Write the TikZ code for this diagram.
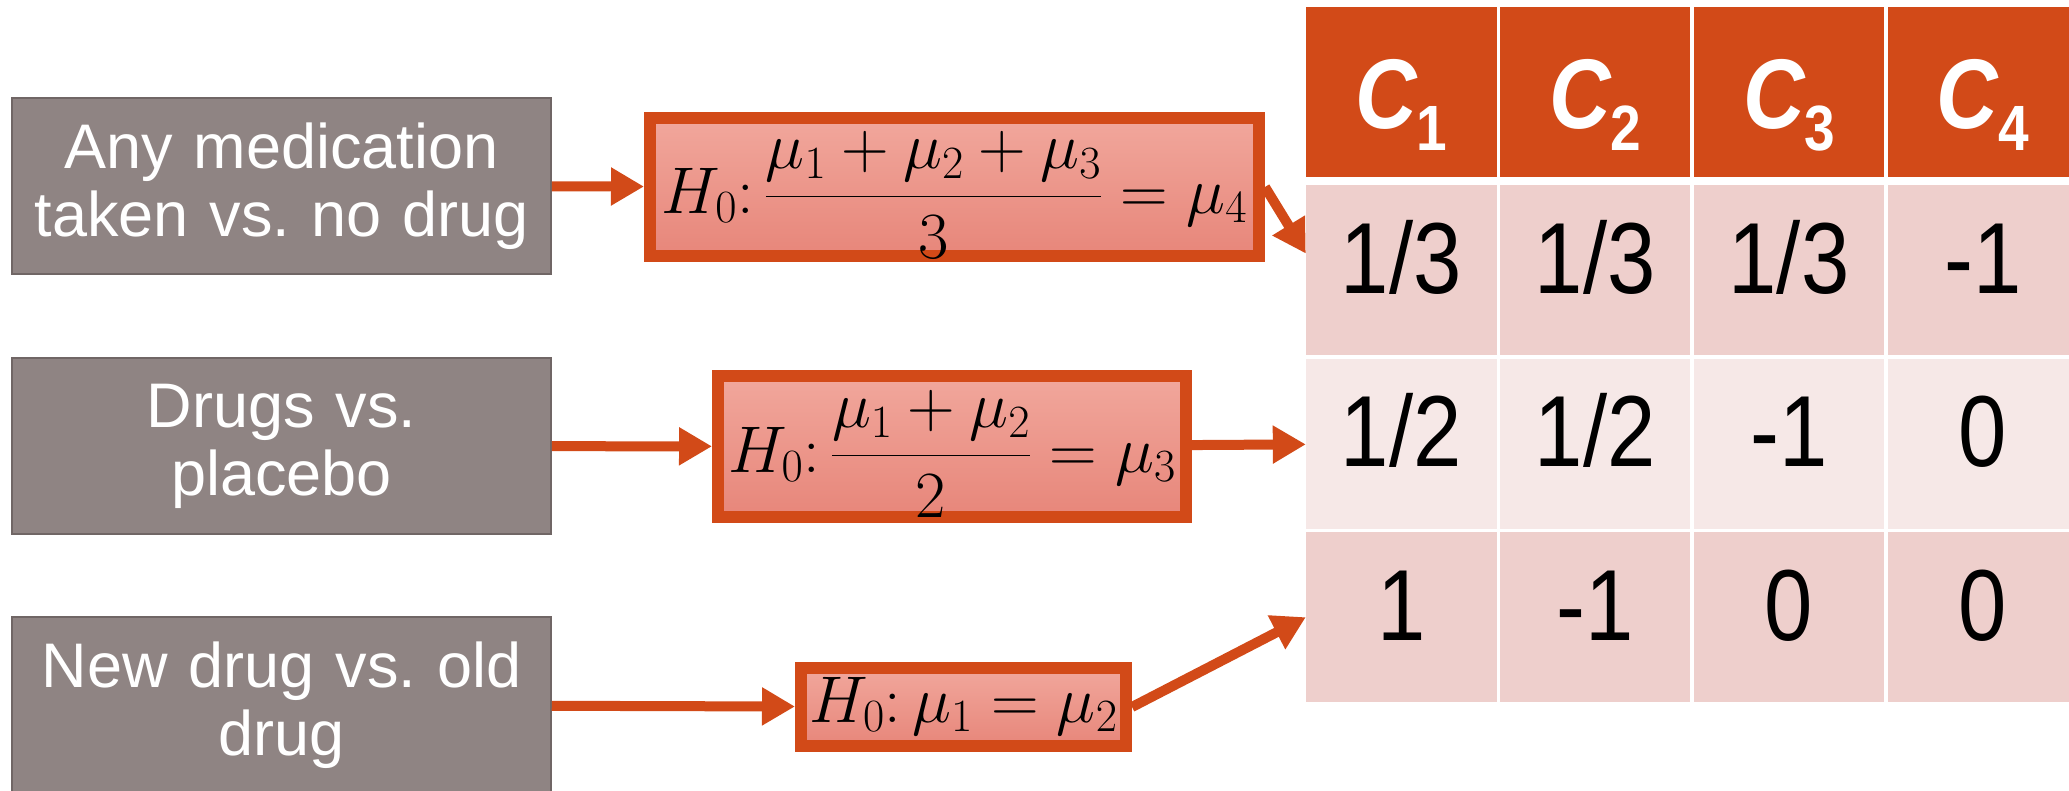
\RequirePackage{fix-cm}
\documentclass[tikz,border=0pt]{standalone}
\usepackage{amsmath}
\usepackage[no-math]{fontspec}
\setmainfont{Liberation Sans}
\newfontfamily\narrowsans[FakeStretch=0.86]{Liberation Sans}
\usepackage{xcolor}
\usepackage{tikz}
\usetikzlibrary{arrows.meta, positioning}

\definecolor{rust}{RGB}{210,74,24}
\definecolor{grayfill}{RGB}{143,132,131}
\definecolor{graybrd}{RGB}{112,102,101}
\definecolor{hyptop}{RGB}{241,167,156}
\definecolor{hypbot}{RGB}{231,134,122}
\definecolor{rowdark}{RGB}{238,207,204}
\definecolor{rowlight}{RGB}{246,232,231}

\begin{document}
\begin{tikzpicture}[
  x=1pt, y=-1pt,
  node distance=3pt and 3pt,
  gbox/.style={draw=graybrd,fill=grayfill,line width=1.5pt,minimum width=539pt,minimum height=176pt,
               inner sep=0pt,text width=530pt,align=center,text=white,font=\fontsize{63}{68}\selectfont},
  hyp/.style={draw=rust,line width=12pt,top color=hyptop,bottom color=hypbot,inner sep=0pt,
              anchor=base,font=\fontsize{66}{66}\selectfont},
  cell/.style={minimum width=190.5pt,minimum height=170pt,inner sep=0pt,
               text height=108pt,text depth=62pt,font=\narrowsans\fontsize{101}{101}\selectfont},
  hd/.style={cell,fill=rust,text=white,text height=121pt,text depth=49pt,
             font=\narrowsans\bfseries\itshape\fontsize{99}{99}\selectfont},
  dk/.style={cell,fill=rowdark},
  lt/.style={cell,fill=rowlight},
  arr/.style={draw=rust,line width=10pt,-{Triangle[length=33pt,width=36pt]}},
]
\useasboundingbox (0,0) rectangle (2069,790);
\clip (0,0) rectangle (2069,790);

\node[gbox] (g1) at (281.5,186) {Any medication\\taken vs.\ no drug};
\node[gbox] (g2) at (281.5,446) {Drugs vs.\\placebo};
\node[gbox] (g3) at (281.5,705) {New drug vs.\ old\\drug};

\node[hyp,minimum width=609pt,text height=95pt,text depth=43pt] (h1) at (954.5,213)
  {$H_0{:}\,\dfrac{\mu_1+\mu_2+\mu_3}{3}=\mu_4$};
\node[hyp,minimum width=468pt,text height=96pt,text depth=45pt] (h2) at (952,472)
  {$H_0{:}\,\dfrac{\mu_1+\mu_2}{2}=\mu_3$};
\node[hyp,minimum width=325pt,text height=54pt,text depth=24pt] (h3) at (963.5,722)
  {$H_0{:}\,\mu_1=\mu_2$};

\node[hd] (c1) at (1401.25,92) {C\raisebox{-22pt}{\upshape\fontsize{64}{64}\selectfont 1}};
\node[hd, right=of c1] (c2) {C\raisebox{-22pt}{\upshape\fontsize{64}{64}\selectfont 2}};
\node[hd, right=of c2] (c3) {C\raisebox{-22pt}{\upshape\fontsize{64}{64}\selectfont 3}};
\node[hd, right=of c3] (c4) {C\raisebox{-22pt}{\upshape\fontsize{64}{64}\selectfont 4}};

\node[dk, below=8pt of c1] (u1) {1/3};
\node[dk, right=of u1] (u2) {1/3};
\node[dk, right=of u2] (u3) {1/3};
\node[dk, right=of u3] (u4) {-1};

\node[lt, below=of u1] (v1) {1/2};
\node[lt, right=of v1] (v2) {1/2};
\node[lt, right=of v2] (v3) {-1};
\node[lt, right=of v3] (v4) {0};

\node[dk, below=of v1] (w1) {1};
\node[dk, right=of w1] (w2) {-1};
\node[dk, right=of w2] (w3) {0};
\node[dk, right=of w3] (w4) {0};

\draw[arr] (g1) -- (h1);
\draw[arr] (h1.east) -- (u1.170);
\draw[arr] (g2) -- (h2);
\draw[arr] (h2) -- (v1);
\draw[arr] (g3) -- (h3);
\draw[arr] (h3.east) -- (w1.west);
\end{tikzpicture}
\end{document}
